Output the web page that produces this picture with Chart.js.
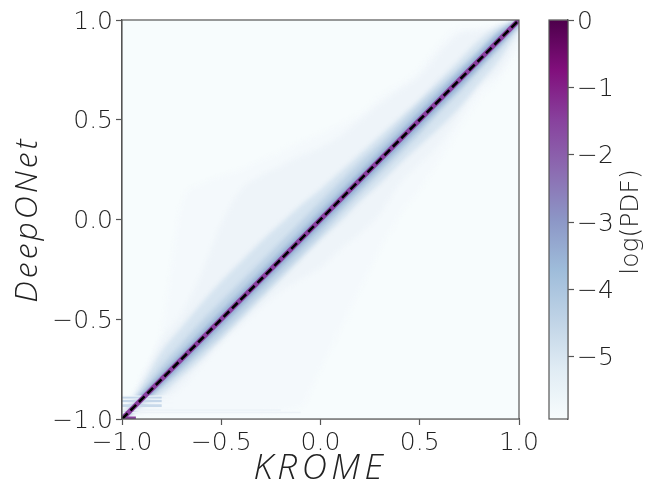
<!DOCTYPE html>
<html>
<head>
<meta charset="utf-8">
<title>DeepONet vs KROME</title>
<script src="https://cdn.jsdelivr.net/npm/chart.js@4"></script>
<style>
    html, body { margin: 0; padding: 0; background: #fff; }
    canvas { position: absolute; left: 0; top: 0; }
</style>
</head>
<body>
<canvas id="density" width="648" height="485"></canvas>
<canvas id="colorbar" width="648" height="485"></canvas>
<script>
const kromeKnots = [-1, -0.9, -0.8, -0.7, -0.6, -0.5, -0.4, -0.3, -0.2, -0.1, 0, 0.1, 0.2, 0.3, 0.4, 0.5, 0.6, 0.7, 0.8, 0.9, 1];

// DeepONet upper / lower edge of each log(PDF) contour, one value per knot
const upperM59 = [-0.98, -0.78, -0.55, 0.08, 0.18, 0.22, 0.25, 0.3, 0.34, 0.39, 0.43, 0.48, 0.53, 0.62, 0.68, 0.76, 0.89, 0.96, 0.96, 0.97, 1];
const lowerM59 = [-1, -0.98, -0.97, -0.97, -0.97, -0.97, -0.97, -0.97, -0.96, -0.94, -0.75, -0.55, -0.35, -0.15, 0.02, 0.15, 0.3, 0.45, 0.6, 0.7, 0.85];
const upperM55 = [-0.99, -0.8, -0.6, -0.47, -0.27, -0.02, 0.15, 0.22, 0.27, 0.32, 0.36, 0.42, 0.5, 0.58, 0.65, 0.72, 0.84, 0.93, 0.95, 0.97, 1];
const lowerM55 = [-1, -0.96, -0.91, -0.84, -0.73, -0.62, -0.53, -0.44, -0.36, -0.3, -0.24, -0.15, -0.07, 0.03, 0.18, 0.28, 0.38, 0.52, 0.66, 0.74, 0.9];
const upperM50 = [-0.99, -0.83, -0.66, -0.54, -0.42, -0.31, -0.21, -0.11, -0.02, 0.07, 0.15, 0.24, 0.33, 0.42, 0.51, 0.6, 0.7, 0.8, 0.9, 0.97, 1];
const lowerM50 = [-1, -0.94, -0.88, -0.79, -0.7, -0.6, -0.5, -0.4, -0.3, -0.2, -0.1, -0.01, 0.09, 0.18, 0.28, 0.37, 0.46, 0.56, 0.68, 0.8, 0.95];
const upperM43 = [-0.99, -0.86, -0.73, -0.62, -0.51, -0.41, -0.31, -0.21, -0.11, -0.01, 0.09, 0.19, 0.29, 0.38, 0.48, 0.58, 0.67, 0.76, 0.85, 0.94, 1];
const lowerM43 = [-1, -0.92, -0.84, -0.76, -0.67, -0.58, -0.48, -0.38, -0.28, -0.18, -0.08, 0.03, 0.13, 0.23, 0.33, 0.43, 0.54, 0.64, 0.75, 0.86, 0.98];
const upperM35 = [-1, -0.88, -0.77, -0.665, -0.56, -0.46, -0.36, -0.26, -0.16, -0.06, 0.04, 0.14, 0.24, 0.34, 0.44, 0.54, 0.64, 0.74, 0.84, 0.94, 1];
const lowerM35 = [-1, -0.92, -0.83, -0.735, -0.64, -0.54, -0.44, -0.34, -0.24, -0.14, -0.04, 0.06, 0.16, 0.26, 0.36, 0.46, 0.56, 0.66, 0.765, 0.87, 0.98];
const upperM27 = [-0.99, -0.885, -0.785, -0.685, -0.585, -0.485, -0.385, -0.285, -0.185, -0.085, 0.015, 0.115, 0.215, 0.315, 0.415, 0.515, 0.615, 0.715, 0.815, 0.915, 1];
const lowerM27 = [-1, -0.915, -0.815, -0.715, -0.615, -0.515, -0.415, -0.315, -0.215, -0.115, -0.015, 0.085, 0.185, 0.285, 0.385, 0.485, 0.585, 0.685, 0.785, 0.885, 0.99];

// horizontal streaks in the bottom left corner
const streakLevels = [-0.885, -0.9, -0.92, -0.945, -0.893, -0.91, -0.933, -0.955, -0.968];
const streakEnds = [-0.74, -0.74, -0.74, -0.74, -0.8, -0.8, -0.8, -0.2, -0.1];

// identity line, axis ticks and colorbar
const identityLine = [-1, 1];
const axisTicks = [-1, -0.5, 0, 0.5, 1];
const colorbarTicks = [0, -1, -2, -3, -4, -5];
const colorbarRange = [-5.92, 0];

// BuPu colormap stops, low to high
const buPu = ['#f7fcfd', '#e0ecf4', '#bfd3e6', '#9ebcda', '#8c96c6', '#8c6bb1', '#88419d', '#810f7c', '#4d004b'];
const fontFamily = '"DejaVu Sans", sans-serif';
const titleFamily = '"Open Sans", sans-serif';
const inkColor = '#222';

function pairs(ys) {
    return kromeKnots.map((x, i) => ({ x: x, y: ys[i] }));
}

function formatTick(value, digits) {
    return value.toFixed(digits).replace('-', '\u2212');
}

function band(upper, lower, color) {
    // the upper edge fills down to the lower edge listed right after it
    return [
        { data: pairs(upper), borderWidth: 0, pointRadius: 0, fill: '+1', backgroundColor: color, cubicInterpolationMode: 'monotone' },
        { data: pairs(lower), borderWidth: 0, pointRadius: 0, fill: false, cubicInterpolationMode: 'monotone' }
    ];
}

function hLine(y, xEnd, color, width) {
    return {
        data: [{ x: -1, y: y }, { x: xEnd, y: y }],
        borderColor: color, borderWidth: width, pointRadius: 0, fill: false
    };
}

const streakColors = ['#f2f7fb', '#f2f7fb', '#f2f7fb', '#f2f7fb', '#c4d6e9', '#c4d6e9', '#c8d9ea', '#edf3f8', '#edf3f8'];
const streakWidths = [1, 1, 1, 1, 2.6, 2.6, 2.6, 1.5, 1.5];
const streaks = streakLevels.map((y, i) => hLine(y, streakEnds[i], streakColors[i], streakWidths[i]));

// first in the list is painted last
const sharpSets = [
    {
        data: identityLine.map(v => ({ x: v, y: v })),
        borderColor: '#000', borderWidth: 2.6, borderDash: [8, 4], pointRadius: 0, fill: false
    },
    {
        data: identityLine.map(v => ({ x: v, y: v })),
        borderColor: '#8a3f9f', borderWidth: 5, pointRadius: 0, fill: false
    },
    hLine(-0.995, -0.93, '#88419d', 3)
].concat(streaks);

const blurredSets = [].concat(
    band(upperM27, lowerM27, '#8c96c6'),
    band(upperM35, lowerM35, '#9ebcda'),
    band(upperM43, lowerM43, '#bfd3e6'),
    band(upperM50, lowerM50, '#d6e4f0'),
    band(upperM55, lowerM55, '#eef4f9'),
    band(upperM59, lowerM59, '#f4f9fc')
);

// soft edges for the contours so they read like the binned density
const softBands = {
    id: 'softBands',
    beforeDatasetsDraw(chart) {
        chart.ctx.fillStyle = '#f7fcfd';
        chart.ctx.fillRect(chart.chartArea.left, chart.chartArea.top, chart.chartArea.width, chart.chartArea.height);
        chart.ctx.filter = 'blur(2px)';
    },
    afterDatasetDraw(chart, args) {
        if (args.index === sharpSets.length) chart.ctx.filter = 'blur(0.7px)';
    },
    afterDatasetsDraw(chart) {
        chart.ctx.filter = 'none';
    }
};

const frame = {
    id: 'frame',
    afterDraw(chart) {
        const a = chart.chartArea;
        chart.ctx.save();
        chart.ctx.strokeStyle = '#555';
        chart.ctx.lineWidth = 1.2;
        chart.ctx.strokeRect(a.left, a.top, a.width, a.height);
        chart.ctx.restore();
    }
};

// mathtext spaces its italics wider than the plain font does
const titleSpacing = { x: '4.5px', y: '3px' };
const wideTitles = {
    id: 'wideTitles',
    afterLayout(chart) {
        ['x', 'y'].forEach(id => {
            const scale = chart.scales[id];
            if (scale.wideTitle) return;
            scale.wideTitle = true;
            const draw = scale.drawTitle;
            scale.drawTitle = function() {
                chart.ctx.letterSpacing = titleSpacing[id];
                draw.call(scale);
                chart.ctx.letterSpacing = '0px';
            };
        });
    }
};

function mainAxis(text, fixedSize, titlePadding, titleSize, labelShift) {
    return {
        type: 'linear',
        min: -1,
        max: 1,
        afterBuildTicks: scale => { scale.ticks = axisTicks.map(v => ({ value: v })); },
        afterFit: scale => {
            if (scale.isHorizontal()) scale.height = fixedSize; else scale.width = fixedSize;
        },
        grid: { drawOnChartArea: false, color: '#555', tickLength: 6, tickWidth: 1.2 },
        border: { color: '#555', width: 1.2 },
        ticks: {
            color: inkColor,
            autoSkip: false,
            maxRotation: 0,
            padding: 3,
            labelOffset: labelShift,
            font: { family: fontFamily, size: 25, weight: '200' },
            callback: v => formatTick(v, 1)
        },
        title: {
            display: true,
            text: text,
            color: '#222',
            padding: titlePadding,
            font: { family: titleFamily, size: titleSize, style: 'italic', weight: '300', lineHeight: 0.9 }
        }
    };
}

new Chart(document.getElementById('density'), {
    type: 'line',
    data: { datasets: sharpSets.concat(blurredSets) },
    plugins: [softBands, frame, wideTitles],
    options: {
        responsive: false,
        animation: false,
        layout: { padding: { top: 20, right: 129, bottom: 0, left: 0 } },
        plugins: { legend: { display: false }, tooltip: { enabled: false } },
        scales: {
            x: mainAxis('KROME', 66, { top: 0, bottom: 0 }, 35, 0),
            y: mainAxis('DeepONet', 122, { top: 13, bottom: 0 }, 32, 2)
        }
    }
});

// colorbar: one floating bar painted with the colormap
const barPaint = ctx => {
    const area = ctx.chart.chartArea;
    if (!area) return buPu[0];
    const gradient = ctx.chart.ctx.createLinearGradient(0, area.bottom, 0, area.top);
    buPu.forEach((c, i) => gradient.addColorStop(i / (buPu.length - 1), c));
    return gradient;
};

const colorbarLabel = {
    id: 'colorbarLabel',
    afterDraw(chart) {
        const ctx = chart.ctx;
        ctx.save();
        ctx.translate(631, 222);
        ctx.rotate(-Math.PI / 2);
        ctx.textAlign = 'center';
        ctx.textBaseline = 'middle';
        ctx.fillStyle = inkColor;
        ctx.font = '200 25px ' + fontFamily;
        ctx.fillText('log(PDF)', 0, 0);
        ctx.restore();
    }
};

new Chart(document.getElementById('colorbar'), {
    type: 'bar',
    data: {
        labels: ['log(PDF)'],
        datasets: [{
            data: [colorbarRange],
            backgroundColor: barPaint,
            barPercentage: 1,
            categoryPercentage: 1
        }]
    },
    plugins: [frame, colorbarLabel],
    options: {
        responsive: false,
        animation: false,
        layout: { padding: { top: 20, right: 0, bottom: 66, left: 549 } },
        plugins: { legend: { display: false }, tooltip: { enabled: false } },
        scales: {
            x: { display: false },
            y: {
                position: 'right',
                min: colorbarRange[0],
                max: colorbarRange[1],
                afterBuildTicks: scale => { scale.ticks = colorbarTicks.map(v => ({ value: v })); },
                afterFit: scale => { scale.width = 80; },
                grid: { drawOnChartArea: false, color: '#555', tickLength: 6, tickWidth: 1.2 },
                border: { color: '#555', width: 1.2 },
                ticks: {
                    color: inkColor,
                    autoSkip: false,
                    padding: 3,
                    labelOffset: 2,
                    font: { family: fontFamily, size: 25, weight: '200' },
                    callback: v => formatTick(v, 0)
                }
            }
        }
    }
});
</script>
</body>
</html>
